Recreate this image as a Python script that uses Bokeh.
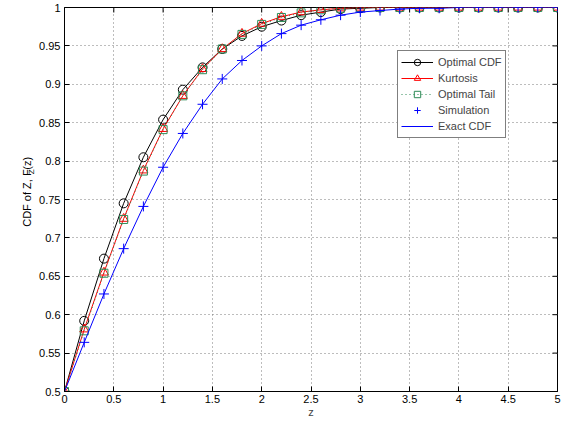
import math
from bokeh.plotting import figure
from bokeh.layouts import row
from bokeh.models import (Range1d, Legend, LegendItem,
                          FixedTicker, CustomJSTickFormatter)
from bokeh.core.properties import value
from bokeh.embed import file_html
from bokeh.resources import INLINE

# ---------------- data ----------------
z = [0.0, 0.2, 0.4, 0.6, 0.8, 1.0, 1.2, 1.4, 1.6, 1.8, 2.0, 2.2, 2.4,
     2.6, 2.8, 3.0, 3.2, 3.4, 3.6, 3.8, 4.0, 4.2, 4.4, 4.6, 4.8, 5.0]

optimal_cdf = [0.500, 0.592, 0.673, 0.745, 0.805, 0.854, 0.893, 0.922, 0.946,
               0.963, 0.975, 0.983, 0.990, 0.994, 0.998, 0.999, 1.000, 1.000,
               1.000, 1.000, 1.000, 1.000, 1.000, 1.000, 1.000, 1.000]
kurtosis = [0.500, 0.581, 0.655, 0.725, 0.788, 0.842, 0.885, 0.920, 0.946,
            0.966, 0.979, 0.988, 0.994, 0.997, 0.999, 1.000, 1.000, 1.000,
            1.000, 1.000, 1.000, 1.000, 1.000, 1.000, 1.000, 1.000]
optimal_tail = [0.500, 0.579, 0.654, 0.724, 0.787, 0.841, 0.885, 0.919, 0.946,
                0.965, 0.978, 0.987, 0.993, 0.997, 0.999, 1.000, 1.000, 1.000,
                1.000, 1.000, 1.000, 1.000, 1.000, 1.000, 1.000, 1.000]
simulation = [0.500, 0.564, 0.627, 0.686, 0.741, 0.792, 0.836, 0.874, 0.907,
              0.931, 0.950, 0.966, 0.977, 0.984, 0.990, 0.994, 0.996, 0.998,
              0.999, 0.999, 1.000, 1.000, 1.000, 1.000, 1.000, 1.000]
exact_cdf = [0.500, 0.564, 0.627, 0.686, 0.741, 0.792, 0.836, 0.874, 0.907,
             0.931, 0.950, 0.966, 0.977, 0.984, 0.990, 0.994, 0.996, 0.998,
             0.999, 0.999, 1.000, 1.000, 1.000, 1.000, 1.000, 1.000]

x_ticks = [0, 0.5, 1, 1.5, 2, 2.5, 3, 3.5, 4, 4.5, 5]
x_tick_labels = ["0", "0.5", "1", "1.5", "2", "2.5", "3", "3.5", "4", "4.5", "5"]
y_ticks = [0.5, 0.55, 0.6, 0.65, 0.7, 0.75, 0.8, 0.85, 0.9, 0.95, 1.0]
y_tick_labels = ["0.5", "0.55", "0.6", "0.65", "0.7", "0.75", "0.8", "0.85",
                 "0.9", "0.95", "1"]

ylabel_parts = ["CDF of Z, F", "Z", "(z)"]   # F with subscript Z

FONT = "Liberation Sans"
STRIP_W = 36

# ---------------- main plot ----------------
p = figure(width=571 - STRIP_W, height=422, output_backend="svg", toolbar_location=None,
           x_range=Range1d(0, 5), y_range=Range1d(0.5, 1),
           min_border_left=64 - STRIP_W, min_border_right=14, min_border_top=7,
           min_border_bottom=31)
p.background_fill_color = "white"
p.border_fill_color = "white"
p.outline_line_color = "black"
p.outline_line_width = 1

code = """
for (let i = 0; i < tvals.length; i++) {
  if (Math.abs(tvals[i] - tick) < 1e-9) return tlabels[i];
}
return "";
"""

def style_axis(ax, ticks, labels):
    ax.ticker = FixedTicker(ticks=ticks)
    ax.formatter = CustomJSTickFormatter(args=dict(tvals=ticks, tlabels=labels), code=code)
    ax.major_tick_in = 5
    ax.major_tick_out = 0
    ax.minor_tick_line_color = None
    ax.axis_line_color = "black"
    ax.major_tick_line_color = "black"
    ax.major_label_text_font = FONT
    ax.major_label_text_color = "black"
    ax.major_label_text_font_size = "11px"

style_axis(p.xaxis[0], x_ticks, x_tick_labels)
style_axis(p.yaxis[0], y_ticks, y_tick_labels)
p.xaxis[0].major_label_standoff = 3
p.yaxis[0].major_label_standoff = 4
p.xaxis[0].axis_label = "z"
p.xaxis[0].axis_label_text_font = FONT
p.xaxis[0].axis_label_text_font_size = "11px"
p.xaxis[0].axis_label_text_font_style = "normal"
p.xaxis[0].axis_label_standoff = 0

# top / right inward ticks (box style)
p.ray(x=x_ticks, y=[1.0] * len(x_ticks), length=5, length_units="screen",
      angle=-math.pi / 2, line_color="black", line_width=1)
p.ray(x=[5.0] * len(y_ticks), y=y_ticks, length=5, length_units="screen",
      angle=math.pi, line_color="black", line_width=1)

for g, t in ((p.xgrid[0], x_ticks), (p.ygrid[0], y_ticks)):
    g.ticker = FixedTicker(ticks=t)
    g.grid_line_color = "#7a7a7a"
    g.grid_line_dash = "1 3"
    g.grid_line_width = 1

# series
l1 = p.line(z, optimal_cdf, line_color="black", line_width=1)
s1 = p.scatter(z, optimal_cdf, marker="circle", size=9, line_color="black",
               fill_color=None, line_width=1)
l2 = p.line(z, kurtosis, line_color="red", line_width=1)
s2 = p.scatter(z, kurtosis, marker="triangle", size=9, line_color="red",
               fill_color=None, line_width=1)
green = "#2E8B57"
l3 = p.line(z, optimal_tail, line_color=green, line_width=1, line_dash="1 3")
s3 = p.scatter(z, optimal_tail, marker="square", size=8, line_color=green,
               fill_color=None, line_width=1)
s4 = p.scatter(z, simulation, marker="cross", size=10, line_color="blue",
               line_width=1)
l5 = p.line(z, exact_cdf, line_color="blue", line_width=1)

legend = Legend(items=[
    LegendItem(label="Optimal CDF", renderers=[l1, s1]),
    LegendItem(label="Kurtosis", renderers=[l2, s2]),
    LegendItem(label="Optimal Tail", renderers=[l3, s3]),
    LegendItem(label="Simulation", renderers=[s4]),
    LegendItem(label="Exact CDF", renderers=[l5]),
], location=(333, 253))
legend.border_line_color = "black"
legend.border_line_width = 1
legend.background_fill_color = "white"
legend.background_fill_alpha = 1
legend.label_text_font = FONT
legend.label_text_font_size = "11px"
legend.glyph_width = 32
legend.glyph_height = 16
legend.label_height = 16
legend.label_standoff = 5
legend.spacing = 0
legend.padding = 3
legend.margin = 0
p.add_layout(legend, "center")

# ---------------- y-axis label strip (pixel coordinates) ----------------
lab = figure(width=STRIP_W, height=422, output_backend="svg", toolbar_location=None,
             x_range=Range1d(0, STRIP_W), y_range=Range1d(0, 422),
             x_axis_location=None, y_axis_location=None,
             min_border_left=0, min_border_right=0, min_border_top=0,
             min_border_bottom=0)
lab.grid.visible = False
lab.outline_line_color = None
lab.background_fill_color = "white"
lab.border_fill_color = "white"

lab.text(x=[26], y=[181], text=[ylabel_parts[0]], angle=math.pi / 2,
         text_align="left", text_baseline="alphabetic",
         text_font=value(FONT), text_font_size="11px", text_color="black")
lab.text(x=[31], y=[238.8], text=[ylabel_parts[1]], angle=math.pi / 2,
         text_align="left", text_baseline="alphabetic",
         text_font=value(FONT), text_font_size="8px", text_color="black")
lab.text(x=[26], y=[243.8], text=[ylabel_parts[2]], angle=math.pi / 2,
         text_align="left", text_baseline="alphabetic",
         text_font=value(FONT), text_font_size="11px", text_color="black")

layout = row(lab, p)
open("out.html", "w").write(file_html(layout, INLINE))
